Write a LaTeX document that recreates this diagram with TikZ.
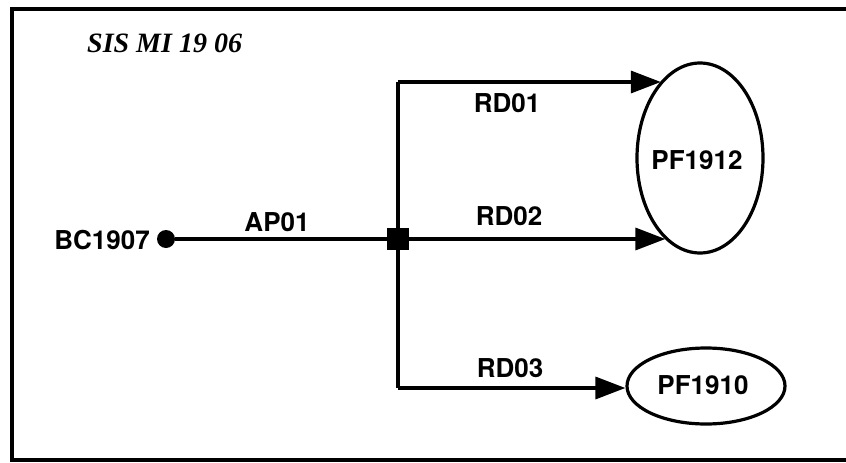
\documentclass[tikz,border=0pt]{standalone}
\usepackage{fontspec}
\setmainfont{TeX Gyre Heros}
\newfontfamily\titlefont{Liberation Serif}
\usetikzlibrary{arrows.meta,shapes.geometric}
\begin{document}
\begin{tikzpicture}[x=1pt,y=-1pt,
  lbl/.style={font=\fontsize{26}{30}\selectfont\bfseries, inner sep=0pt},
  wire/.style={line width=3.4pt},
  arr/.style={wire, -{Triangle[length=30pt,width=22pt]}},
  oval/.style={draw, ellipse, line width=3.2pt, inner sep=0pt}]
\useasboundingbox (0,0) rectangle (846,463);
% frame
\draw[line width=4.5pt] (880,9) -- (12,9) -- (12,460) -- (880,460);
% title
\node[anchor=west, inner sep=0pt, font=\titlefont\fontsize{28}{32}\selectfont\bfseries\itshape] (title) at (87,43) {SIS MI 19 06};
% nodes
\node[circle, fill, minimum size=18pt, inner sep=0pt] (bc) at (166,239) {};
\node[lbl, anchor=east] (bclbl) at (150,240) {BC1907};
\node[fill, minimum size=22pt, inner sep=0pt] (sq) at (398,239) {};
\node[oval, minimum width=126pt, minimum height=190pt] (e1) at (700,158) {};
\node[lbl] (e1lbl) at (697,160) {PF1912};
\node[oval, minimum width=158pt, minimum height=76pt] (e2) at (706,386) {};
\node[lbl] (e2lbl) at (703,385) {PF1910};
\coordinate (j1) at (398,82);
\coordinate (j3) at (398,388);
% connectors
\draw[wire] (bc) -- (sq);
\draw[wire] (j1) -- (j3);
\draw[arr] (j1) -- (j1 -| e1.117);
\draw[arr] (sq) -- (sq -| e1.247);
\draw[arr] (j3) -- (j3 -| e2.west);
% labels
\node[lbl] (ap) at (277,222) {AP01};
\node[lbl] (rd1) at (507,103) {RD01};
\node[lbl] (rd2) at (509,216) {RD02};
\node[lbl] (rd3) at (510,368) {RD03};
\end{tikzpicture}
\end{document}
